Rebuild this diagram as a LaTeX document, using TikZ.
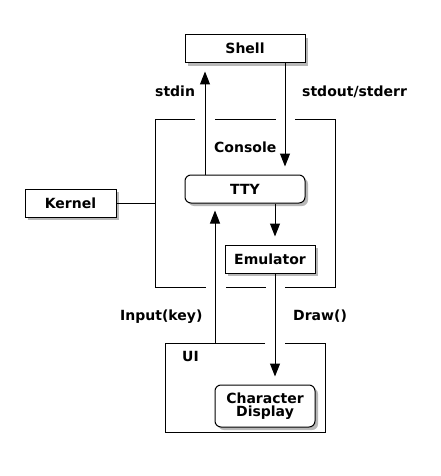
\documentclass[tikz,border=0pt]{standalone}
\usepackage{fontspec}
\setmainfont{DejaVu Sans}
\usetikzlibrary{arrows.meta,shadows}
\begin{document}
\begin{tikzpicture}[x=1pt,y=-1pt,
  every node/.style={font=\fontsize{14}{12.5}\selectfont\bfseries},
  line/.style={line width=1pt,black},
  arr/.style={line, -{Triangle[length=13pt,width=10pt]}, shorten >=8pt},
  sh/.style={drop shadow={shadow xshift=3pt,shadow yshift=-3pt,fill=black,opacity=0.28}},
  box/.style={draw,line width=1pt,fill=white,sh,inner sep=0pt,text height=10pt,text depth=0pt},
  rbox/.style={box,rounded corners=6pt},
  lbl/.style={anchor=base west,inner sep=0pt}
]
\useasboundingbox[fill=white] (0,0) rectangle (440,476);

% Console frame
\draw[line] (195,120) -- (155,120) -- (155,287) -- (206,287);
\draw[line] (215,120) -- (276,120);
\draw[line] (295,120) -- (335,120) -- (335,287) -- (285,287);
\draw[line] (226,287) -- (266,287);
\coordinate (conL) at (155,203);

% UI frame
\draw[line] (265,343) -- (165,343) -- (165,432) -- (325,432) -- (325,343) -- (285,343);
\coordinate (uiin) at (215,343);

% boxes
\node[box,minimum width=120pt,minimum height=28pt] (shell) at (245,49) {Shell};
\node[box,minimum width=91pt,minimum height=28pt] (kernel) at (70.5,203) {Kernel};
\node[rbox,minimum width=120pt,minimum height=28pt] (tty) at (245,189) {TTY};
\node[box,minimum width=90pt,minimum height=28pt] (emu) at (270,259) {Emulator};
\node[rbox,minimum width=100pt,minimum height=42pt,align=center,text height=,text depth=] (cd) at (265,406) {Character\\Display};

% labels
\node[lbl] (lstdin) at (155,97) {stdin};
\node[lbl] (lstdout) at (302,97) {stdout/stderr};
\node[lbl] (lcons) at (214,152) {Console};
\node[lbl] (linput) at (120,320) {Input(key)};
\node[lbl] (ldraw) at (293,320) {Draw()};
\node[lbl] (lui) at (182,361.5) {UI};

% connectors
\draw[arr] ([xshift=-40pt]tty.north) -- ([xshift=-40pt]shell.south);
\draw[arr] ([xshift=40pt]shell.south) -- ([xshift=40pt]tty.north);
\draw[line] (kernel.east) -- (conL);
\draw[arr] ([xshift=30pt]tty.south) -- ([xshift=5pt]emu.north);
\draw[arr,shorten >=7pt] (uiin) -- ([xshift=-30pt]tty.south);
\draw[arr] ([xshift=5pt]emu.south) -- ([xshift=10pt]cd.north);
\end{tikzpicture}
\end{document}
